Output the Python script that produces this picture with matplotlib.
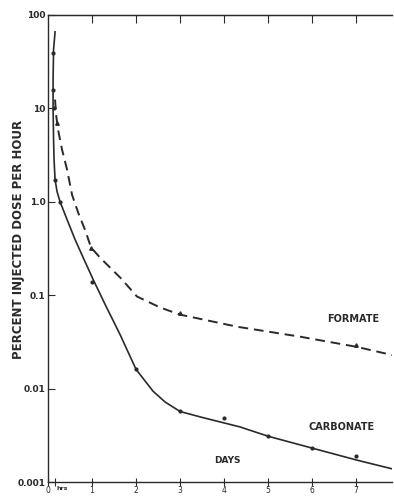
import numpy as np
import matplotlib
matplotlib.use("Agg")
import matplotlib.pyplot as plt

plt.rcParams['font.family'] = ['DejaVu Sans']

# carbonate (solid curve) - days after injection, percent dose per hour
carb_days = [0.159, 0.125, 0.114, 0.114, 0.125, 0.136, 0.159, 0.205, 0.273, 0.432, 0.614,
             0.818, 1.023, 1.295, 1.636, 2.0, 2.386, 2.66, 3.0, 3.52, 4.36, 5.0, 6.02, 7.02, 7.84]
carb_vals = [65.8, 42.3, 20.2, 10.1, 4.62, 2.82, 1.73, 1.28, 1.0, 0.645, 0.394,
             0.241, 0.148, 0.080, 0.038, 0.0161, 0.0094, 0.0072, 0.0057, 0.0049, 0.0039,
             0.0031, 0.0023, 0.00172, 0.00138]
carb_pt_days = [0.114, 0.114, 0.125, 0.159, 0.273, 1.0, 2.0, 3.0, 4.0, 5.0, 6.0, 7.0]
carb_pt_vals = [39, 15.8, 10.1, 1.73, 1.0, 0.137, 0.0161, 0.0057, 0.0048, 0.0031, 0.0023, 0.0019]

# formate (dashed curve)
form_days = [0.159, 0.182, 0.227, 0.318, 0.432, 0.545, 0.682, 0.841, 0.977, 1.18, 1.66,
             2.02, 2.545, 3.0, 4.3, 5.73, 7.02, 7.84]
form_vals = [12.4, 8.55, 5.9, 3.61, 2.21, 1.19, 0.77, 0.50, 0.324, 0.253, 0.151,
             0.097, 0.074, 0.062, 0.046, 0.036, 0.028, 0.0228]
form_pt_days = [0.2, 0.977, 3.0, 7.0]
form_pt_vals = [7.0, 0.324, 0.064, 0.029]

ytick_vals = [100, 10, 1, 0.1, 0.01, 0.001]
ytick_labels = ["100", "10", "1.0", "0.1", "0.01", "0.001"]
xtick_vals = [0, 1, 2, 3, 4, 5, 6, 7]
xtick_labels = ["0", "1", "2", "3", "4", "5", "6", "7"]

ink = "#2a2a2a"
fig = plt.figure(figsize=(3.94, 4.96), dpi=100)
ax = fig.add_axes([0.122, 0.028, 0.873, 0.942])

ax.plot(carb_days, carb_vals, color=ink, lw=1.2, solid_joinstyle='round')
ax.plot(carb_pt_days, carb_pt_vals, 'o', color=ink, ms=2)
ax.plot(form_days, form_vals, color=ink, lw=1.4, dashes=(5, 3), dash_joinstyle='round')
ax.plot(form_pt_days, form_pt_vals, '^', color=ink, ms=2.5)

ax.set_yscale('log')
ax.set_ylim(0.001, 100)
ax.set_xlim(0, 7.82)
ax.set_yticks(ytick_vals)
ax.set_yticklabels(ytick_labels, fontsize=6.5, fontweight='bold', color=ink)
ax.minorticks_off()
ax.set_xticks(xtick_vals)
ax.set_xticklabels(xtick_labels, fontsize=5.5, color=ink)
ax.set_xticks([0.16], minor=True)
ax.tick_params(axis='y', direction='in', length=5, width=0.8, pad=2, colors=ink)
ax.tick_params(axis='x', which='both', direction='inout', length=6, width=0.8, pad=0, colors=ink)

top = ax.secondary_xaxis('top')
top.set_xticks(xtick_vals[1:])
top.set_xticklabels([])
top.tick_params(direction='in', length=6, width=0.8, colors=ink)
top.spines['top'].set_color(ink)

ax.text(0.33, 0.00086, "hrs", fontsize=4.5, fontweight='bold', color=ink,
        ha='center', va='center', clip_on=False)

ax.spines['right'].set_visible(False)
for s in ['left', 'bottom', 'top']:
    ax.spines[s].set_color(ink)
    ax.spines[s].set_linewidth(1.0)

ax.set_ylabel("PERCENT INJECTED DOSE PER HOUR", fontsize=8.5, fontweight='bold',
              color=ink)
ax.yaxis.set_label_coords(-0.068, 0.52)

ax.text(6.93, 0.055, "FORMATE", fontsize=7, fontweight='bold', color=ink, ha='center', va='center')
ax.text(6.68, 0.0039, "CARBONATE", fontsize=7, fontweight='bold', color=ink, ha='center', va='center')
ax.text(4.07, 0.0017, "DAYS", fontsize=6.5, fontweight='bold', color=ink, ha='center', va='center')

fig.savefig("out.png", dpi=100, facecolor='white')
